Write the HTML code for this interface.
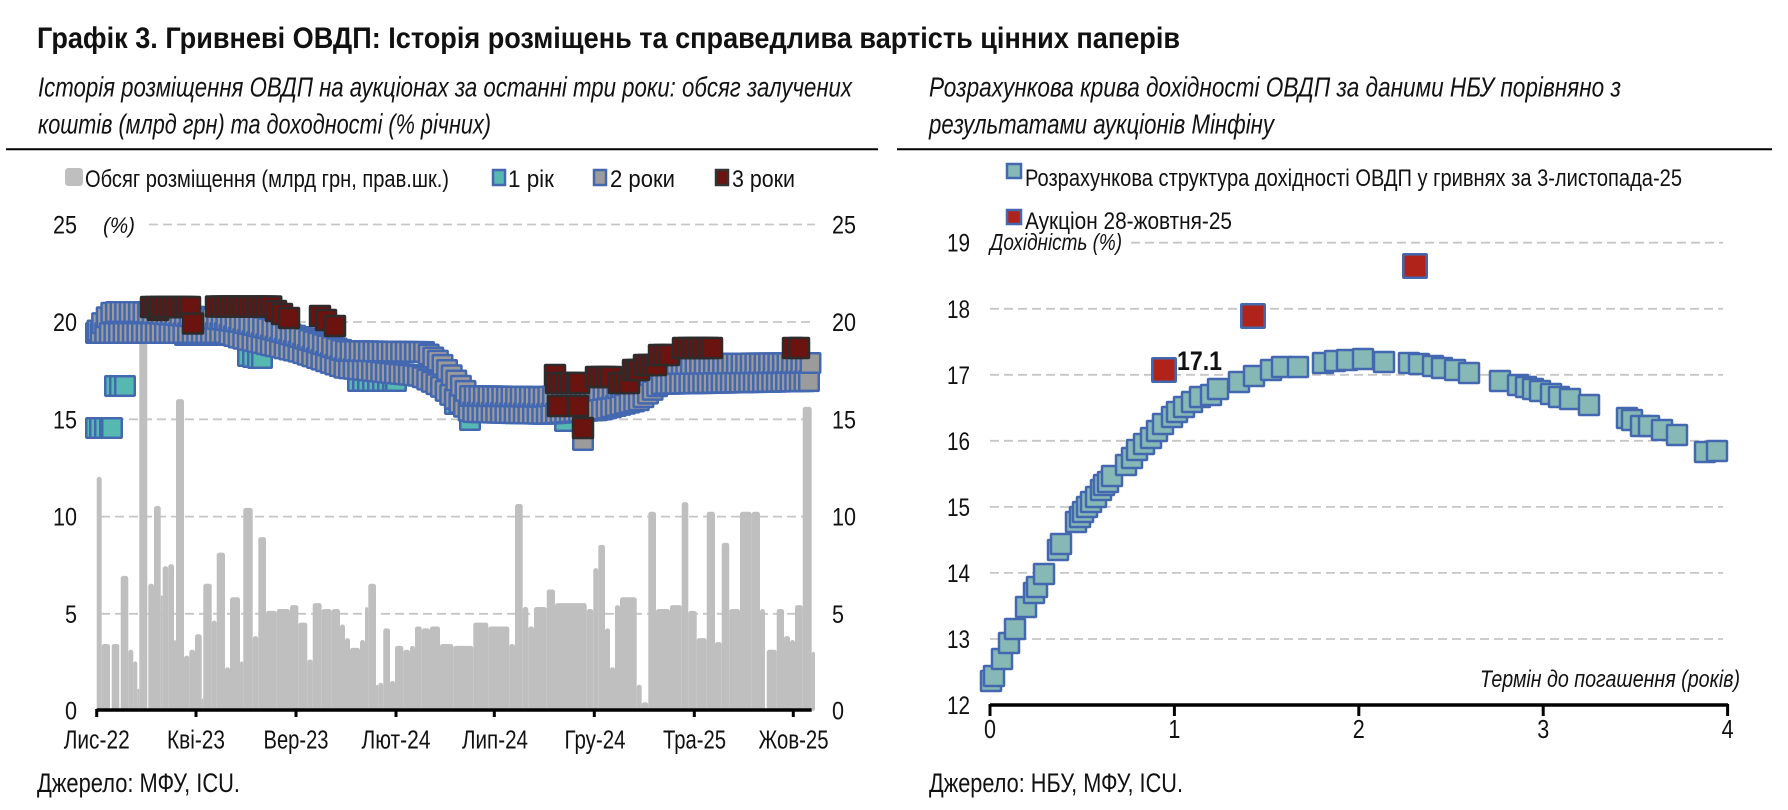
<!DOCTYPE html>
<html><head><meta charset="utf-8">
<style>
html,body{margin:0;padding:0;background:#fff;}
svg{display:block;}
text{font-family:"Liberation Sans Narrow","Liberation Sans",Arial,sans-serif;fill:#111;}
.it{font-style:italic;}
.b{font-weight:bold;}
</style></head>
<body>
<svg id="s" xmlns="http://www.w3.org/2000/svg" width="1788" height="810" viewBox="0 0 1788 810">
<rect x="0" y="0" width="1788" height="810" fill="#fff"/>
<!-- title -->
<text class="b" x="37" y="48" font-size="30" textLength="1143" lengthAdjust="spacingAndGlyphs">Графік 3. Гривневі ОВДП: Історія розміщень та справедлива вартість цінних паперів</text>
<text class="it" x="38" y="96.5" font-size="27.5" textLength="814" lengthAdjust="spacingAndGlyphs">Історія розміщення ОВДП на аукціонах за останні три роки: обсяг залучених</text>
<text class="it" x="38" y="133.5" font-size="27.5" textLength="453" lengthAdjust="spacingAndGlyphs">коштів (млрд грн) та доходності (% річних)</text>
<text class="it" x="929" y="96.5" font-size="27.5" textLength="692" lengthAdjust="spacingAndGlyphs">Розрахункова крива дохідності ОВДП за даними НБУ порівняно з</text>
<text class="it" x="929" y="133.5" font-size="27.5" textLength="345" lengthAdjust="spacingAndGlyphs">результатами аукціонів Мінфіну</text>
<line x1="6" y1="149.3" x2="878" y2="149.3" stroke="#000" stroke-width="2"/>
<line x1="897" y1="149.3" x2="1772" y2="149.3" stroke="#000" stroke-width="2"/>

<!-- left legend -->
<rect x="65" y="168" width="18" height="18" rx="3.5" fill="#bfbfbf"/>
<text x="85" y="187" font-size="24.5" textLength="364" lengthAdjust="spacingAndGlyphs">Обсяг розміщення (млрд грн, прав.шк.)</text>
<rect x="493" y="170" width="12" height="15" fill="#56b9b1" stroke="#4468b0" stroke-width="2.5"/>
<text x="508" y="187" font-size="24.5" textLength="46" lengthAdjust="spacingAndGlyphs">1 рік</text>
<rect x="594" y="170" width="12" height="15" fill="#9b9b9b" stroke="#4468b0" stroke-width="2.5"/>
<text x="610" y="187" font-size="24.5" textLength="65" lengthAdjust="spacingAndGlyphs">2 роки</text>
<rect x="716" y="170" width="12" height="15" fill="#6b130f" stroke="#333" stroke-width="2.5"/>
<text x="732" y="187" font-size="24.5" textLength="63" lengthAdjust="spacingAndGlyphs">3 роки</text>

<!-- right legend -->
<rect x="1007" y="164" width="14" height="14" fill="#86b9b6" stroke="#4468b0" stroke-width="2.5"/>
<text x="1025" y="186" font-size="24.5" textLength="657" lengthAdjust="spacingAndGlyphs">Розрахункова структура дохідності ОВДП у гривнях за 3-листопада-25</text>
<rect x="1007" y="210" width="14" height="14" fill="#b0231a" stroke="#4468b0" stroke-width="2.5"/>
<text x="1025" y="229" font-size="24.5" textLength="207" lengthAdjust="spacingAndGlyphs">Аукціон 28-жовтня-25</text>

<!-- left grid -->
<g stroke="#c6c6c6" stroke-width="1.8" stroke-dasharray="9,5" fill="none">
<line x1="149" y1="224.5" x2="815" y2="224.5"/>
<line x1="101" y1="322" x2="815" y2="322"/>
<line x1="101" y1="419.3" x2="815" y2="419.3"/>
<line x1="101" y1="516.6" x2="815" y2="516.6"/>
<line x1="101" y1="613.8" x2="815" y2="613.8"/>
</g>
<!-- right grid -->
<g stroke="#c6c6c6" stroke-width="1.8" stroke-dasharray="9,5" fill="none">
<line x1="1131" y1="242.7" x2="1723" y2="242.7"/>
<line x1="990" y1="308.8" x2="1723" y2="308.8"/>
<line x1="990" y1="374.8" x2="1723" y2="374.8"/>
<line x1="990" y1="440.8" x2="1723" y2="440.8"/>
<line x1="990" y1="506.9" x2="1723" y2="506.9"/>
<line x1="990" y1="572.9" x2="1723" y2="572.9"/>
<line x1="990" y1="639" x2="1723" y2="639"/>
</g>

<g id="bars"></g>
<g id="lm"></g>
<g id="rm"></g>

<!-- left axis -->
<line x1="96.7" y1="710" x2="811.7" y2="710" stroke="#000" stroke-width="3.4"/>
<g stroke="#000" stroke-width="3">
<line x1="96.7" y1="709" x2="96.7" y2="717"/><line x1="196" y1="709" x2="196" y2="717"/>
<line x1="296" y1="709" x2="296" y2="717"/><line x1="396" y1="709" x2="396" y2="717"/>
<line x1="494.3" y1="709" x2="494.3" y2="717"/><line x1="594.3" y1="709" x2="594.3" y2="717"/>
<line x1="694.3" y1="709" x2="694.3" y2="717"/><line x1="793.3" y1="709" x2="793.3" y2="717"/>
</g>
<g font-size="25.5" text-anchor="middle">
<text x="96.7" y="748.3" textLength="66" lengthAdjust="spacingAndGlyphs">Лис-22</text>
<text x="196" y="748.3" textLength="58" lengthAdjust="spacingAndGlyphs">Кві-23</text>
<text x="296" y="748.3" textLength="65" lengthAdjust="spacingAndGlyphs">Вер-23</text>
<text x="396" y="748.3" textLength="69" lengthAdjust="spacingAndGlyphs">Лют-24</text>
<text x="495" y="748.3" textLength="66" lengthAdjust="spacingAndGlyphs">Лип-24</text>
<text x="595" y="748.3" textLength="61" lengthAdjust="spacingAndGlyphs">Гру-24</text>
<text x="694.5" y="748.3" textLength="63" lengthAdjust="spacingAndGlyphs">Тра-25</text>
<text x="793.5" y="748.3" textLength="70" lengthAdjust="spacingAndGlyphs">Жов-25</text>
</g>
<g font-size="25" text-anchor="end">
<text x="77" y="233.5" textLength="24" lengthAdjust="spacingAndGlyphs">25</text>
<text x="77" y="331" textLength="24" lengthAdjust="spacingAndGlyphs">20</text>
<text x="77" y="428.3" textLength="24" lengthAdjust="spacingAndGlyphs">15</text>
<text x="77" y="525.6" textLength="24" lengthAdjust="spacingAndGlyphs">10</text>
<text x="77" y="622.8" textLength="12" lengthAdjust="spacingAndGlyphs">5</text>
<text x="77" y="719.5" textLength="12" lengthAdjust="spacingAndGlyphs">0</text>
</g>
<g font-size="25" text-anchor="start">
<text x="832" y="233.5" textLength="24" lengthAdjust="spacingAndGlyphs">25</text>
<text x="832" y="331" textLength="24" lengthAdjust="spacingAndGlyphs">20</text>
<text x="832" y="428.3" textLength="24" lengthAdjust="spacingAndGlyphs">15</text>
<text x="832" y="525.6" textLength="24" lengthAdjust="spacingAndGlyphs">10</text>
<text x="832" y="622.8" textLength="12" lengthAdjust="spacingAndGlyphs">5</text>
<text x="832" y="719.5" textLength="12" lengthAdjust="spacingAndGlyphs">0</text>
</g>
<text class="it" x="103" y="233" font-size="22" textLength="32" lengthAdjust="spacingAndGlyphs">(%)</text>

<!-- right axis -->
<line x1="990" y1="705" x2="1728" y2="705" stroke="#000" stroke-width="3.4"/>
<g stroke="#000" stroke-width="3">
<line x1="990" y1="704" x2="990" y2="716"/><line x1="1174.4" y1="704" x2="1174.4" y2="716"/>
<line x1="1358.8" y1="704" x2="1358.8" y2="716"/><line x1="1543.2" y1="704" x2="1543.2" y2="716"/>
<line x1="1727.6" y1="704" x2="1727.6" y2="716"/>
</g>
<g font-size="25.5" text-anchor="middle">
<text x="990" y="738" textLength="12" lengthAdjust="spacingAndGlyphs">0</text>
<text x="1174.4" y="738" textLength="12" lengthAdjust="spacingAndGlyphs">1</text>
<text x="1358.8" y="738" textLength="12" lengthAdjust="spacingAndGlyphs">2</text>
<text x="1543.2" y="738" textLength="12" lengthAdjust="spacingAndGlyphs">3</text>
<text x="1727.6" y="738" textLength="12" lengthAdjust="spacingAndGlyphs">4</text>
</g>
<g font-size="25" text-anchor="end">
<text x="970" y="251.7" textLength="23" lengthAdjust="spacingAndGlyphs">19</text>
<text x="970" y="317.8" textLength="23" lengthAdjust="spacingAndGlyphs">18</text>
<text x="970" y="383.8" textLength="23" lengthAdjust="spacingAndGlyphs">17</text>
<text x="970" y="449.8" textLength="23" lengthAdjust="spacingAndGlyphs">16</text>
<text x="970" y="515.9" textLength="23" lengthAdjust="spacingAndGlyphs">15</text>
<text x="970" y="581.9" textLength="23" lengthAdjust="spacingAndGlyphs">14</text>
<text x="970" y="648" textLength="23" lengthAdjust="spacingAndGlyphs">13</text>
<text x="970" y="714" textLength="23" lengthAdjust="spacingAndGlyphs">12</text>
</g>
<text class="it" x="990" y="250" font-size="23.5" textLength="132" lengthAdjust="spacingAndGlyphs">Дохідність (%)</text>
<text class="it" x="1480" y="687" font-size="24" textLength="260" lengthAdjust="spacingAndGlyphs">Термін до погашення (років)</text>
<text class="b" x="1177" y="370" font-size="27" textLength="45" lengthAdjust="spacingAndGlyphs">17.1</text>

<!-- sources -->
<text x="37" y="792" font-size="27" textLength="203" lengthAdjust="spacingAndGlyphs">Джерело: МФУ, ICU.</text>
<text x="929" y="792" font-size="27" textLength="254" lengthAdjust="spacingAndGlyphs">Джерело: НБУ, МФУ, ICU.</text>
</svg>

<script>
(function(){
var S='http://www.w3.org/2000/svg';
function R(p,x,y,w,h,f,s,sw,rx){var r=document.createElementNS(S,'rect');
r.setAttribute('x',x.toFixed(2));r.setAttribute('y',y.toFixed(2));r.setAttribute('width',w.toFixed(2));r.setAttribute('height',h.toFixed(2));
r.setAttribute('fill',f);if(s){r.setAttribute('stroke',s);r.setAttribute('stroke-width',sw);}if(rx){r.setAttribute('rx',rx);}p.appendChild(r);}
var Y0=710,K=19.43;
var bars=[[96.7,101.7,12],[101.7,110,3.4],[111.7,119.3,3.4],[120.7,128.3,6.9],[128.3,133.3,3.1],[133.3,137.3,2.5],[137.3,139.3,1.1],
[139.3,147.3,20],[148.3,154,6.5],[154,160.7,10.5],[160.7,162.7,5.9],[162.7,168.3,7.4],[168.3,174,7.5],[174,176,3.6],[176,184,16.0],
[184,189.3,2.8],[189.3,195,3.1],[195,201.7,3.9],[201.7,203.3,0.6],[203.3,211.7,6.5],[211.7,216.7,4.6],[216.7,225,8.1],[225,230,2.2],
[230,240,5.8],[240,243.3,2.5],[243.3,252.7,10.4],[252.7,258.3,3.8],[258.3,266,8.9],[266,276.7,5.1],[276.7,290,5.2],[290,298.3,5.4],
[298.3,307.3,4.5],[307.3,312.7,2.6],[312.7,321.7,5.5],[321.7,331.7,5.2],[331.7,340,5.2],[340,345,4.4],[345,350,3.7],[350,360,3.2],
[360,365,3.6],[365,368.3,5.3],[368.3,376,6.5],[376,378.3,1.3],[378.3,383.3,1.4],[383.3,390,4.2],[390,395,1.5],[395,403.3,3.3],
[403.3,410,3.1],[410,415,3.3],[415,421.7,4.3],[421.7,430,4.2],[430,440,4.3],[440,453.3,3.4],[453.3,473.3,3.3],[473.3,488.3,4.5],
[488.3,509.3,4.3],[509.3,515,3.4],[515,522.7,10.6],[522.7,528.3,5.3],[528.3,534,4.3],[534,546.7,5.3],[546.7,555,6.2],[555,586.7,5.5],
[586.7,593.3,5.2],[593.3,598.3,7.3],[598.3,605,8.5],[605,610,4.2],[610,615,2.2],[615,620,5.4],[620,636.7,5.8],[636.7,641.7,1.3],
[641.7,648.3,0.4],[648.3,656,10.2],[656,670,5.2],[670,681.7,5.4],[681.7,688.3,10.7],[688.3,696.7,5.1],[696.7,706.7,3.7],
[706.7,715,10.2],[715,721.7,3.5],[721.7,729.3,8.6],[729.3,740,5.2],[740,751.7,10.2],[751.7,760,10.2],[760,765,5.2],[766.7,776.7,3.1],
[776.7,784,5.2],[784,790,3.8],[790,795,3.6],[795,802.7,5.4],[802.7,811.7,15.6],[811.7,815,3.0]];
var gb=document.getElementById('bars');
bars.forEach(function(b){var h=b[2]*K;R(gb,b[0],Y0-h,b[1]-b[0],h+1,'#bfbfbf',null,0,2.5);});

function interp(pts,x){if(x<=pts[0][0])return pts[0][1];for(var i=1;i<pts.length;i++){if(x<=pts[i][0]){var a=pts[i-1],c=pts[i];return a[1]+(c[1]-a[1])*(x-a[0])/(c[0]-a[0]);}}return pts[pts.length-1][1];}
var lm=document.getElementById('lm');
var SZ=19.5,SW=2.5;
function sq(p,cx,cy,sz,f,s,sw){R(p,cx-sz/2,cy-sz/2,sz,sz,f,s,sw,0.8);}
var teal=[[96,428],[100,428],[105,428],[110,428],[112,428],[115,386],[120,386],[125,386],
[185,335],[190,335],[195,335],[200,335],[205,335],[210,335],[215,335],[220,335],
[248,356],[253,357],[258,358],[262,358],[331,362],
[358,381],[363,381],[368,381],[373,381],[378,381],[383,381],[388,381],[393,381],[396,381],
[455,404],[470,420],[565,421]];
teal.forEach(function(p){sq(lm,p[0],p[1],SZ,'#56b9b1','#4468b0',SW);});
var gU=[[96,333],[104,320],[112,312],[140,312],[210,318],[240,322],[275,330],[300,337],[345,351],[425,352],[440,362],[470,396],[545,397],[580,393],[620,388],[650,375],[665,364],[815,363]];
var gL=[[96,333],[112,333],[225,333],[240,338],[300,352],[345,368],[420,376],[440,386],[470,412],[545,414],[600,410],[640,400],[660,384],[815,381]];
for(var x=96;x<=812;x+=4.6){
  sq(lm,x,interp(gL,x),SZ,'#9b9b9b','#4468b0',SW);
  sq(lm,x+1.5,interp(gU,x+1.5),SZ,'#9b9b9b','#4468b0',SW);
  if(Math.abs(x-583)<2.4){sq(lm,583,440,SZ,'#9b9b9b','#4468b0',SW);}
}
var red=[];
[151,155,160,164,169,173,177,182,186,190].forEach(function(x){red.push([x,307]);});
red.push([158,310]);red.push([193,323.5]);
for(var x2=216;x2<=272;x2+=4.6){red.push([x2,306.5]);}
red.push([276,311],[282,314],[289,318],[320,316],[326,320],[335,326]);
[556,561,566,571,576,579].forEach(function(x){red.push([x,383]);});
red.push([555,375],[558,406],[578,406],[583,428]);
[596,601,606,611].forEach(function(x){red.push([x,377]);});
[619,624,629].forEach(function(x){red.push([x,383]);});
[633,636,639].forEach(function(x){red.push([x,370]);});
[644,648,652,656].forEach(function(x){red.push([x,365]);});
[659,664,669].forEach(function(x){red.push([x,355]);});
[683,688,693,698,703,708,712].forEach(function(x){red.push([x,348]);});
[793,799].forEach(function(x){red.push([x,348]);});
red.sort(function(a,b){return a[0]-b[0];});
red.forEach(function(p){sq(lm,p[0],p[1],20,'#6b130f','#2f2b2b',SW);});

var rm=document.getElementById('rm');
var rt=[[991,681],[994,676],[1002,659],[1009,643],[1015,629],[1026,607],[1034,593],[1037,587],[1044,574],[1058,550],[1061,544],
[1076,522],[1080,517],[1083,512],[1087,507],[1091,502],[1096,497],[1101,490],[1104,485],[1108,482],[1112,476],[1126,465],[1132,458],
[1137,450],[1144,444],[1151,438],[1157,431],[1163,424],[1172,417],[1177,412],[1184,407],[1192,402],[1200,397],[1211,395],[1218,389],
[1239,382],[1254,376],[1271,370],[1282,367],[1298,367],[1323,363],[1335,361],[1347,360],[1363,359],[1384,362],[1409,363],[1419,364],
[1433,366],[1442,368],[1455,370],[1469,373],[1500,381],[1518,385],[1526,387],[1533,389],[1540,391],[1551,394],[1559,397],[1570,399],
[1589,405],[1627,418],[1632,420],[1641,426],[1649,426],[1662,430],[1677,435],[1705,452],[1717,451]];
rt.sort(function(a,b){return a[0]-b[0];});
rt.forEach(function(p){sq(rm,p[0],p[1],20,'#86b9b6','#4468b0',2.5);});
[[1164,370],[1253,316],[1415,266]].forEach(function(p){sq(rm,p[0],p[1],23.5,'#b0231a','#4468b0',2.5);});
})();
</script>
</body></html>
